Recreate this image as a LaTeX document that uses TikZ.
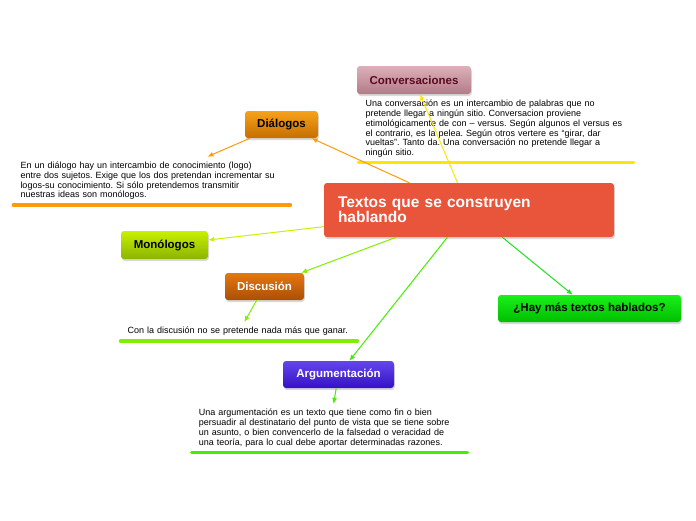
\documentclass[tikz,border=0pt]{standalone}
\usepackage{fontspec}
\setmainfont{Liberation Sans}
\usepackage{tikz}
\usetikzlibrary{calc}
\usetikzlibrary{arrows.meta}
\usetikzlibrary{shadows}

\definecolor{rojo}{HTML}{E8553B}
\definecolor{amarillo}{HTML}{FFE600}
\definecolor{naranja}{HTML}{FF9A0A}
\definecolor{lima}{HTML}{CCF000}
\definecolor{verde}{HTML}{80F000}
\definecolor{verdeb}{HTML}{44EE00}
\definecolor{verdec}{HTML}{22E022}
\definecolor{granate}{HTML}{5C0A1E}
\definecolor{rosaA}{HTML}{DCB0B9}
\definecolor{rosaB}{HTML}{B37B88}
\definecolor{naranjaA}{HTML}{F7A21B}
\definecolor{naranjaB}{HTML}{C56E00}
\definecolor{limaA}{HTML}{C8F000}
\definecolor{limaB}{HTML}{8CB400}
\definecolor{ocreA}{HTML}{E5780F}
\definecolor{ocreB}{HTML}{A94F06}
\definecolor{azulA}{HTML}{6446EC}
\definecolor{azulB}{HTML}{3512C5}
\definecolor{verdeA}{HTML}{19F019}
\definecolor{verdeB}{HTML}{00BE00}

\tikzset{
  tema/.style={rounded corners=3pt, inner sep=0pt,
    drop shadow={opacity=0.3, shadow xshift=0.8pt, shadow yshift=-2pt},
    font=\fontsize{11.5}{13}\selectfont\bfseries},
  texto/.style={anchor=south west, align=left, inner xsep=7pt, inner ysep=5pt,
    font=\fontsize{9}{9.8}\selectfont\frenchspacing},
  barra/.style={line width=3.5pt, line cap=round},
  flecha/.style={-{Latex[length=6pt,width=5pt]}, line width=1pt}
}

\begin{document}
\begin{tikzpicture}[x=1pt,y=-1pt]

\useasboundingbox (0,0) rectangle (696,520);

\node[tema, fill=rojo, text=white, minimum width=290pt, minimum height=54pt,
  text width=262pt, align=left, inner xsep=14pt,
  font=\fontsize{15.5}{15}\selectfont\bfseries] (textos) at (469,210) {Textos que se construyen\\hablando};

\node[tema, top color=rosaA, bottom color=rosaB, text=granate,
  minimum width=114pt, minimum height=28pt] (conv) at (414,80) {Conversaciones};
\node[tema, top color=naranjaA, bottom color=naranjaB, text=black,
  minimum width=73pt, minimum height=27pt] (dialogos) at (281.5,124.5) {Diálogos};
\node[tema, top color=limaA, bottom color=limaB, text=black,
  minimum width=87pt, minimum height=28pt] (monologos) at (164.5,245) {Monólogos};
\node[tema, top color=ocreA, bottom color=ocreB, text=white,
  minimum width=79pt, minimum height=27pt] (discusion) at (264.5,286.5) {Discusión};
\node[tema, top color=azulA, bottom color=azulB, text=white,
  minimum width=111pt, minimum height=27pt] (argum) at (338.5,374.5) {Argumentación};
\node[tema, top color=verdeA, bottom color=verdeB, text=black,
  minimum width=183pt, minimum height=27pt] (hay) at (589.5,308.5) {¿Hay más textos hablados?};

\node[texto, text width=261pt] (convtxt) at (358.3,162.7) {Una conversación es un intercambio de palabras que no\\pretende llegar a ningún sitio. Conversacion proviene\\etimológicamente de con – versus. Según algunos el versus es\\el contrario, es la pelea. Según otros vertere es “girar, dar\\vueltas”. Tanto da. Una conversación no pretende llegar a\\ningún sitio.};
\node[texto, text width=262.7pt] (dialtxt) at (13.3,205) {En un diálogo hay un intercambio de conocimiento (logo)\\entre dos sujetos. Exige que los dos pretendan incrementar su\\logos-su conocimiento. Si sólo pretendemos transmitir\\nuestras ideas son monólogos.};
\node[texto, text width=222.5pt] (disctxt) at (120.5,341) {Con la discusión no se pretende nada más que ganar.};
\node[texto, text width=261.3pt] (argtxt) at (191.7,452.3) {Una argumentación es un texto que tiene como fin o bien\\persuadir al destinatario del punto de vista que se tiene sobre\\un asunto, o bien convencerlo de la falsedad o veracidad de\\una teoría, para lo cual debe aportar determinadas razones.};

\draw[barra, amarillo] (convtxt.south west) -- (convtxt.south east);
\draw[barra, naranja] (dialtxt.south west) -- (dialtxt.south east);
\draw[barra, verde] (disctxt.south west) -- (disctxt.south east);
\draw[barra, verdeb] (argtxt.south west) -- (argtxt.south east);

\draw[flecha, amarillo] (textos) -- (conv);
\draw[flecha, naranja] (textos) -- (dialogos);
\draw[flecha, naranja] (dialogos) -- (dialtxt);
\draw[flecha, lima] (textos) -- (monologos);
\draw[flecha, verde] (textos) -- (discusion);
\draw[flecha, verde] (discusion) -- (disctxt);
\draw[flecha, verdeb] (textos) -- (argum);
\draw[flecha, verdeb] (argum) -- (argtxt);
\draw[flecha, verdec] (textos) -- (hay);

\end{tikzpicture}
\end{document}
